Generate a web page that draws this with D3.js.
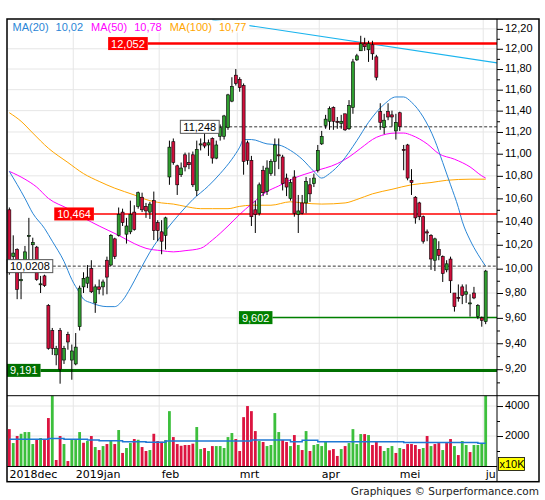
<!DOCTYPE html>
<html>
<head>
<meta charset="utf-8">
<script src="https://cdn.jsdelivr.net/npm/d3@7"></script>
<style>
body { margin: 0; background: #fff; }
svg { display: block; }
</style>
</head>
<body>
<svg id="chart" width="545" height="500"></svg>
<script>
// ---------------- data ----------------
const open = [10.50,10.10,10.16,9.90,10.07,10.27,10.20,10.18,9.87,9.94,
  9.70,9.50,9.31,9.50,9.27,9.47,9.27,9.24,9.53,9.85,
  9.88,10.00,9.72,9.85,9.85,10.07,10.03,10.25,10.28,10.48,
  10.29,10.31,10.48,10.53,10.61,10.53,10.48,10.58,10.39,10.31,
  10.28,10.79,11.11,10.89,10.81,10.99,10.92,10.99,10.67,11.08,
  11.10,11.08,11.14,10.96,11.16,11.16,11.24,11.49,11.74,11.70,
  11.64,11.10,10.94,10.50,10.47,10.85,10.66,10.82,10.93,10.99,
  10.97,10.78,10.60,10.79,10.46,10.56,10.56,10.72,10.73,10.85,
  11.09,11.26,11.30,11.43,11.30,11.28,11.37,11.23,11.43,11.89,
  11.98,12.05,11.99,12.04,11.92,11.39,11.24,11.39,11.36,11.21,
  11.38,11.04,11.08,10.76,10.61,10.56,10.44,10.31,10.28,10.07,
  10.16,10.10,9.99,10.08,9.80,9.765,9.85,9.79,9.72,9.80,
  9.61,9.60,9.57];
const high = [10.52,10.28,10.17,10.04,10.19,10.43,10.26,10.19,9.94,9.95,
  9.71,9.52,9.38,9.52,9.38,9.49,9.39,9.48,9.86,9.97,
  10.03,10.07,9.87,9.91,9.91,10.10,10.29,10.26,10.52,10.51,
  10.43,10.58,10.54,10.66,10.65,10.56,10.57,10.66,10.41,10.41,
  10.44,11.12,11.14,10.90,10.92,11.01,11.01,11.02,11.12,11.14,
  11.19,11.13,11.15,11.12,11.27,11.36,11.56,11.72,11.80,11.72,
  11.66,11.12,10.98,10.58,10.74,10.89,10.94,10.95,11.14,11.14,
  10.99,10.82,10.77,10.85,10.63,10.63,10.79,10.78,10.82,11.08,
  11.21,11.36,11.44,11.44,11.34,11.36,11.37,11.50,11.90,11.95,
  12.13,12.11,12.08,12.08,11.94,11.47,11.37,11.47,11.40,11.37,
  11.39,11.08,11.09,10.86,10.62,10.57,10.45,10.33,10.29,10.26,
  10.23,10.11,10.07,10.10,9.80,9.87,9.87,9.87,9.79,9.85,
  9.71,9.61,9.99];
const low = [9.95,10.05,9.75,9.75,10.06,10.07,10.07,9.90,9.80,9.85,
  9.35,9.31,9.23,9.09,9.24,9.35,9.12,9.23,9.50,9.80,
  9.84,9.80,9.64,9.79,9.78,9.79,10.02,10.08,10.27,10.36,
  10.21,10.29,10.32,10.51,10.48,10.43,10.42,10.24,10.23,10.12,
  10.16,10.72,10.90,10.63,10.79,10.84,10.86,10.70,10.62,11.03,
  11.05,10.98,10.91,10.95,11.12,11.13,11.22,11.48,11.64,11.58,
  10.81,10.90,10.36,10.30,10.45,10.62,10.63,10.80,10.80,10.86,
  10.67,10.62,10.58,10.44,10.30,10.46,10.47,10.57,10.70,10.83,
  11.08,11.23,11.22,11.22,11.23,11.23,11.21,11.22,11.37,11.88,
  11.98,11.98,11.87,11.89,11.69,11.22,11.18,11.31,11.25,11.13,
  11.21,10.85,10.76,10.63,10.38,10.41,10.21,10.23,9.99,9.98,
  10.07,9.89,9.97,9.80,9.65,9.73,9.71,9.72,9.61,9.75,
  9.59,9.53,9.55];
const close = [9.97,10.13,9.83,9.91,10.14,10.28,10.22,9.91,9.875,9.86,
  9.36,9.36,9.36,9.20,9.36,9.41,9.34,9.37,9.84,9.92,
  9.93,9.81,9.85,9.83,9.89,9.93,10.28,10.10,10.46,10.39,
  10.36,10.46,10.33,10.65,10.50,10.49,10.55,10.32,10.32,10.23,
  10.43,11.06,10.92,10.72,10.87,10.88,10.90,10.72,11.04,11.09,
  11.07,11.10,10.96,11.08,11.24,11.35,11.55,11.63,11.66,11.62,
  10.93,10.94,10.44,10.46,10.72,10.65,10.87,10.93,11.08,10.98,
  10.73,10.70,10.74,10.47,10.49,10.47,10.75,10.64,10.78,11.03,
  11.16,11.32,11.42,11.30,11.29,11.30,11.22,11.45,11.87,11.93,
  12.05,12.02,12.05,11.95,11.72,11.29,11.31,11.34,11.34,11.29,
  11.25,11.03,10.78,10.74,10.43,10.44,10.23,10.30,10.08,10.25,
  10.11,9.96,10.04,9.90,9.69,9.76,9.78,9.81,9.72,9.76,
  9.70,9.58,9.98];

const volume = [2460,1530,2000,2150,2265,2265,1465,1750,1865,1750,
  3200,5200,400,2000,1465,330,1750,1750,2265,1550,
  1665,2000,1265,1065,1330,1465,1730,1465,2400,870,
  1200,1530,1800,1750,1265,1000,1065,2150,1665,1620,
  1730,3660,1930,1465,1350,1400,1400,1490,2600,1130,
  1200,1000,1330,1330,1330,1200,1930,2200,1800,1000,
  3260,4000,3660,2330,1665,1600,1330,1400,3530,2265,
  1730,1600,1330,2065,1400,1065,2330,1000,1400,1465,
  1330,1650,1050,1130,670,1130,1330,1530,2460,1465,
  2130,2130,2065,1400,1600,1330,1000,1200,1330,870,
  1200,1130,1465,1465,1400,1130,1200,2000,1330,1465,
  1530,1065,1530,1800,1330,730,1665,1400,930,1400,
  1400,1530,5500];
// G = volume up, R = volume down
const volumeDir = ("RGRGGGGRGR" + "RGRRGRGGGR" + "GRGRGRGRGR" + "GGRGRRGRRR" +
  "GGRRRRRRGG" + "RGRGGGGGRR" + "RRRRGRGGGG" + "RRGRGRGRGG" +
  "GGRRRGRGGG" + "GRGRRRGGGR" + "GRRRRRGRGR" + "RGRRGRGGRG" + "GGG").split("");

// average volume (step line): start index and level
const volAvgStart = [0,10,14,20,23,29,35,40,62,72,75,79,101,120,122];
const volAvgValue = [1780,1840,1780,1730,1690,1620,1580,1665,1730,1620,1710,1620,1576,1510,1510];

// moving averages: [bar index, value]
const ma20 = [[0,10.84],[4,10.60],[6,10.47],[9,10.34],[11,10.23],[14,10.06],[16,9.91],[18,9.80],
  [19,9.75],[21,9.72],[25,9.69],[27,9.69],[29,9.74],[31,9.84],[33,9.96],[37,10.19],[40,10.32],
  [44,10.48],[47,10.59],[51,10.71],[54,10.82],[57,10.95],[59,11.06],[60,11.13],[62,11.13],
  [66,11.09],[69,11.08],[72,11.03],[75,10.95],[78,10.84],[80,10.78],[82,10.82],[85,10.92],
  [89,11.12],[92,11.29],[96,11.46],[99,11.53],[101,11.53],[103,11.48],[106,11.34],[109,11.12],
  [111,10.92],[113,10.72],[115,10.52],[116,10.40],[118,10.24],[120,10.12],[122,10.02]];
const ma50 = [[0,10.84],[4,10.77],[7,10.70],[10,10.60],[15,10.51],[19,10.43],[23,10.36],[28,10.28],
  [32,10.21],[35,10.17],[39,10.15],[42,10.14],[45,10.15],[49,10.17],[52,10.24],[56,10.36],
  [59,10.46],[62,10.55],[66,10.66],[69,10.71],[73,10.78],[78,10.84],[84,10.91],[87,10.97],
  [90,11.05],[94,11.15],[99,11.19],[101,11.19],[103,11.17],[107,11.09],[110,11.00],[114,10.95],
  [118,10.88],[121,10.80],[122,10.78]];
const ma100 = [[0,11.38],[3,11.30],[6,11.19],[10,11.05],[15,10.92],[19,10.82],[23,10.75],[27,10.69],
  [32,10.63],[35,10.59],[39,10.56],[42,10.55],[45,10.53],[49,10.51],[52,10.51],[56,10.51],
  [59,10.53],[62,10.54],[67,10.54],[72,10.57],[75,10.56],[80,10.55],[86,10.56],[89,10.59],
  [93,10.64],[98,10.68],[103,10.72],[108,10.74],[112,10.76],[118,10.77],[122,10.77]];

// resistance trend line: [bar index, price]
const trendLine = [[52,12.29],[125,11.86]];

// horizontal levels
const levelValue = [12.052, 10.464, 9.602, 9.191, 11.248, 10.0208];
const levelText  = ["12,052", "10,464", "9,602", "9,191", "11,248", "10,0208"];
const levelFrom  = [25.3, 11.5, 58.8, -0.6, 43.8, -0.6];   // bar index where the tag starts
const levelKind  = ["redBold", "red", "green", "greenBold", "dash", "dash"];

const priceTicks = [9.2,9.4,9.6,9.8,10.0,10.2,10.4,10.6,10.8,11.0,11.2,11.4,11.6,11.8,12.0,12.2];
const priceMinor = [9.1,9.3,9.5,9.7,9.9,10.1,10.3,10.5,10.7,10.9,11.1,11.3,11.5,11.7,11.9,12.1];
const volTicks = [2000, 4000];
const volMinor = [1000, 3000];

const monthLabel = ["2018dec", "2019jan", "feb", "mrt", "apr", "mei", "ju"];
const monthStart = [0, 17, 39, 59, 80, 100, 122];

// ---------------- layout ----------------
const L = 7, R = 497, RR = 539, T = 19, PB = 395.7, VB = 466, B = 481.7;
const n = open.length;
const FONT = "'Liberation Sans', Arial, sans-serif";
const FONT2 = "'DejaVu Sans', Verdana, sans-serif";
const GREEN = "#2f9e2f", RED = "#d00f3c";
const VGREEN = "#3cbf3c", VRED = "#dc1440";
const C20 = "#2a86d6", C50 = "#ff00ff", C100 = "#ffa500";

const svg = d3.select("#chart");
const fmt = v => d3.format(".2f")(v).replace(".", ",");

const x = d3.scaleLinear().domain([-0.6, 124.9]).range([L, R]);
const y = d3.scaleLog().domain([9, 12.3]).range([PB, T]);
const yv = d3.scaleLinear().domain([0, 4690]).range([VB, PB]);
const slot = x(1) - x(0);
const gridX = i => x(i) - slot / 2 - 0.5;

const defs = svg.append("defs");
defs.append("clipPath").attr("id", "clipP").append("rect")
  .attr("x", L).attr("y", T).attr("width", R - L).attr("height", PB - T);
defs.append("clipPath").attr("id", "clipV").append("rect")
  .attr("x", L).attr("y", PB).attr("width", R - L).attr("height", VB - PB);

//------------------GRILLE------------------//
const grid = svg.append("g").attr("stroke", "#e6e6e6").attr("stroke-width", 1);
grid.selectAll("line.h").data(priceTicks).join("line")
  .attr("x1", L).attr("x2", R).attr("y1", d => y(d)).attr("y2", d => y(d));
grid.selectAll("line.vh").data(volTicks).join("line")
  .attr("x1", L).attr("x2", R).attr("y1", d => yv(d)).attr("y2", d => yv(d));
grid.selectAll("line.v").data(monthStart.slice(1)).join("line")
  .attr("x1", d => gridX(d)).attr("x2", d => gridX(d)).attr("y1", T).attr("y2", VB);

//------------------PRIX------------------//
const price = svg.append("g").attr("clip-path", "url(#clipP)");

const lineMA = d3.line().x(d => x(d[0])).y(d => y(d[1])).curve(d3.curveMonotoneX);
price.append("path").attr("d", lineMA(ma100)).attr("fill", "none").attr("stroke", C100).attr("stroke-width", 1);
price.append("path").attr("d", lineMA(ma50)).attr("fill", "none").attr("stroke", C50).attr("stroke-width", 1);
price.append("path").attr("d", lineMA(ma20)).attr("fill", "none").attr("stroke", C20).attr("stroke-width", 1);
price.append("path").attr("d", d3.line().x(d => x(d[0])).y(d => y(d[1]))(trendLine))
  .attr("fill", "none").attr("stroke", "#1ab4ee").attr("stroke-width", 1.2);

// levels: lines under the candles, tags above them
const levels = levelValue.map((v, k) => ({ v, t: levelText[k], from: levelFrom[k], kind: levelKind[k] }));
const lvStyle = {
  redBold: { stroke: "#ff0000", w: 2.5, fill: "#ff0000", txt: "#fff", dash: null },
  red: { stroke: "#ff0000", w: 1.5, fill: "#ff0000", txt: "#fff", dash: null },
  green: { stroke: "#008000", w: 1.5, fill: "#008000", txt: "#fff", dash: null },
  greenBold: { stroke: "#007000", w: 3, fill: "#007000", txt: "#fff", dash: null },
  dash: { stroke: "#333", w: 1, fill: "#fff", txt: "#000", dash: "3,2" }
};
const lvLines = svg.append("g");

// candles
const candles = d3.range(n).map(i => ({ i, o: open[i], h: high[i], l: low[i], c: close[i] }));
const cg = svg.append("g").attr("clip-path", "url(#clipP)");
cg.selectAll("line.wick").data(candles).join("line")
  .attr("x1", d => x(d.i)).attr("x2", d => x(d.i))
  .attr("y1", d => y(d.h)).attr("y2", d => y(d.l))
  .attr("stroke", "#000").attr("stroke-width", 1);
cg.selectAll("rect.body").data(candles).join("rect")
  .attr("x", d => x(d.i) - 1.5).attr("width", 3)
  .attr("y", d => y(Math.max(d.o, d.c)))
  .attr("height", d => Math.max(1, Math.abs(y(d.o) - y(d.c))))
  .attr("fill", d => d.c >= d.o ? GREEN : RED)
  .attr("stroke", "#000").attr("stroke-width", 0.6);

const lvTags = svg.append("g");
levels.forEach(d => {
  const s = lvStyle[d.kind];
  const g = lvTags.append("g");
  const t = g.append("text").attr("font-family", FONT).attr("font-size", 11)
    .attr("fill", s.txt).text(d.t);
  const tw = t.node().getComputedTextLength();
  const bx = Math.max(L, x(d.from)), by = y(d.v);
  const bw = tw + 6;
  g.insert("rect", "text").attr("x", bx).attr("y", by - 6.5).attr("width", bw).attr("height", 13)
    .attr("fill", s.fill).attr("stroke", d.kind == "dash" ? "#555" : "none").attr("stroke-width", 1);
  t.attr("x", bx + 3).attr("y", by + 4);
  lvLines.append("line").attr("x1", bx + bw).attr("x2", R).attr("y1", by).attr("y2", by)
    .attr("stroke", s.stroke).attr("stroke-width", s.w)
    .attr("stroke-dasharray", s.dash);
});

//------------------VOLUME------------------//
const vg = svg.append("g").attr("clip-path", "url(#clipV)");
vg.selectAll("rect").data(volume).join("rect")
  .attr("x", (d, i) => x(i) - 1.4).attr("width", 2.8)
  .attr("y", d => yv(d)).attr("height", d => VB - yv(d))
  .attr("fill", (d, i) => volumeDir[i] == "G" ? VGREEN : VRED);
const volAvg = volAvgStart.map((s, k) => [s, volAvgValue[k]]);
vg.append("path")
  .attr("d", d3.line().x(d => x(d[0])).y(d => yv(d[1])).curve(d3.curveStepAfter)(volAvg))
  .attr("fill", "none").attr("stroke", "#1f78d4").attr("stroke-width", 1.5);

//------------------CADRE------------------//
svg.append("rect").attr("x", L).attr("y", T).attr("width", RR - L).attr("height", B - T)
  .attr("fill", "none").attr("stroke", "#000").attr("stroke-width", 1.5);
svg.append("line").attr("x1", R).attr("x2", R).attr("y1", T).attr("y2", B).attr("stroke", "#000");
svg.append("line").attr("x1", L).attr("x2", RR).attr("y1", PB).attr("y2", PB).attr("stroke", "#000");
svg.append("line").attr("x1", L).attr("x2", R).attr("y1", VB + 0.5).attr("y2", VB + 0.5).attr("stroke", "#000");

//------------------AXES------------------//
const axP = svg.append("g").attr("transform", "translate(" + R + ",0)")
  .call(d3.axisRight(y).tickValues(priceTicks).tickSize(6).tickPadding(2).tickFormat(fmt));
svg.append("g").attr("transform", "translate(" + R + ",0)")
  .call(d3.axisRight(y).tickValues(priceMinor).tickSize(3).tickFormat(""))
  .select(".domain").remove();
const axV = svg.append("g").attr("transform", "translate(" + R + ",0)")
  .call(d3.axisRight(yv).tickValues(volTicks).tickSize(6).tickPadding(2).tickFormat(d3.format("d")));
svg.append("g").attr("transform", "translate(" + R + ",0)")
  .call(d3.axisRight(yv).tickValues(volMinor).tickSize(3).tickFormat(""))
  .select(".domain").remove();
[axP, axV].forEach(a => {
  a.select(".domain").remove();
  a.selectAll("text").attr("font-family", FONT).attr("font-size", 11).attr("fill", "#000").attr("dy", "0.25em");
});
svg.selectAll(".tick line").attr("stroke", "#000");

// x10K tag
svg.append("rect").attr("x", R + 1.5).attr("y", 457.5).attr("width", 26).attr("height", 13)
  .attr("fill", "#ffff00").attr("stroke", "#000").attr("stroke-width", 0.8);
svg.append("text").attr("x", R + 2.5).attr("y", 468).attr("font-family", FONT).attr("font-size", 11)
  .text("x10K");

// months
svg.append("g").selectAll("text").data(monthStart).join("text")
  .attr("x", d => Math.max(L, gridX(d)) + 2.5).attr("y", 477.5)
  .attr("font-family", FONT2).attr("font-size", 11).attr("fill", "#000")
  .text((d, k) => monthLabel[k]);

//------------------LEGENDE------------------//
const leg = svg.append("g");
const legBg = leg.append("rect").attr("fill", "#fff").attr("x", L + 1).attr("y", T + 1.5).attr("height", 12);
const items = [
  ["MA(20)", C20], [fmt(ma20[ma20.length - 1][1]), C20],
  ["MA(50)", C50], [fmt(ma50[ma50.length - 1][1]), C50],
  ["MA(100)", C100], [fmt(ma100[ma100.length - 1][1]), C100]
];
let lx = 12.5;
items.forEach((it, k) => {
  const t = leg.append("text").attr("x", lx).attr("y", 30.5)
    .attr("font-family", FONT).attr("font-size", 11).attr("fill", it[1]).text(it[0]);
  lx += t.node().getComputedTextLength() + (k % 2 == 0 ? 7 : 8);
});
legBg.attr("width", lx - L - 6);

// copyright
svg.append("text").attr("x", RR).attr("y", 495).attr("text-anchor", "end")
  .attr("font-family", FONT2).attr("font-size", 10.5).attr("fill", "#222")
  .text("Graphiques © Surperformance.com");
</script>
</body>
</html>
